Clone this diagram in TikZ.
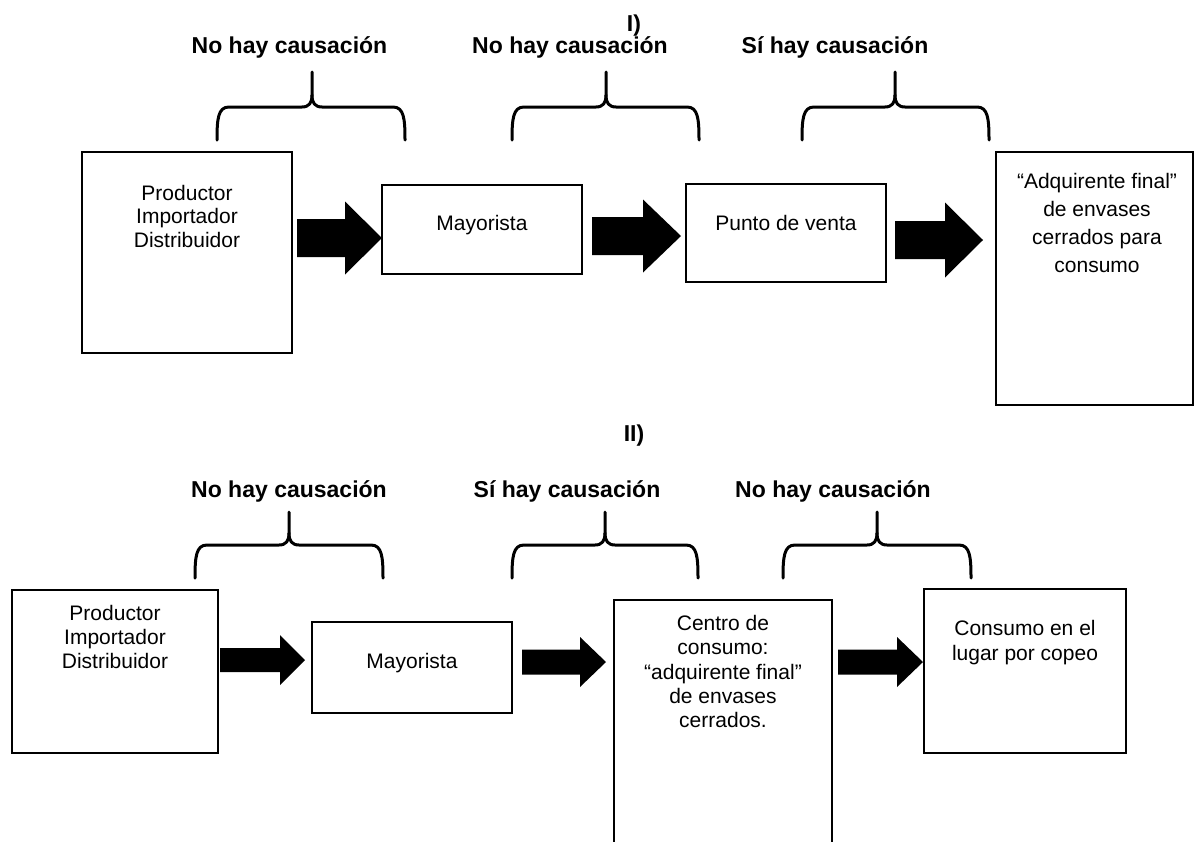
\documentclass[tikz,border=0pt]{standalone}
\usepackage{fontspec}
\setmainfont{Liberation Sans}
\usetikzlibrary{calc}
\tikzset{
  box/.style={draw=black, line width=1.3pt, rectangle, inner sep=0pt},
  btxt/.style={font=\fontsize{21}{23.5}\selectfont, align=center, inner sep=0pt},
  lbl/.style={font=\bfseries\fontsize{23}{27}\selectfont, inner sep=0pt, anchor=base},
  brc/.style={line width=3pt, line cap=round, line join=round},
}
\newcommand\blockarr[5]{\fill ($(#1)+(0,-#3)$) -- ($(#2)+(-#5,-#3)$) -- ($(#2)+(-#5,-#4)$) -- (#2) -- ($(#2)+(-#5,#4)$) -- ($(#2)+(-#5,#3)$) -- ($(#1)+(0,#3)$) -- cycle;}
\newcommand\cbrace[6]{%
  \draw[brc] (#1,#6) .. controls (#1,#5+12) and (#1+1,#5) .. (#1+12,#5) -- (#2-10,#5) .. controls (#2-3,#5) and (#2,#5-4) .. (#2,#5-12) -- (#2,#4);
  \draw[brc] (#2,#5-12) .. controls (#2,#5-4) and (#2+3,#5) .. (#2+10,#5) -- (#3-12,#5) .. controls (#3-1,#5) and (#3,#5+12) .. (#3,#6);}
\begin{document}
\begin{tikzpicture}[x=1pt, y=-1pt]
\useasboundingbox (0,0) rectangle (1194,841);
\clip (0,0) rectangle (1194,841);
\fill[white] (0,0) rectangle (1194,841);

% ---------- Part I ----------
\node[lbl] (i) at (634,31) {I)};
\node[lbl] (l1) at (289.5,53) {No hay causación};
\node[lbl] (l2) at (570,53) {No hay causación};
\node[lbl] (l3) at (835,53) {Sí hay causación};

\cbrace{217}{312}{405}{72}{107}{140}
\cbrace{512}{606}{699}{72}{107}{140}
\cbrace{802}{895}{989}{72}{107}{140}

\node[box, minimum width=210pt, minimum height=201pt] (t1) at (187,252.5) {};
\node[box, minimum width=200pt, minimum height=89pt] (t2) at (482,229.5) {};
\node[box, minimum width=200pt, minimum height=98pt] (t3) at (786,233) {};
\node[box, minimum width=197pt, minimum height=253pt] (t4) at (1094.5,278.5) {};

\node[btxt, anchor=north] (t1x) at (187,185) {Productor\\Importador\\Distribuidor};
\node[btxt, anchor=base] (t2x) at (482,230) {Mayorista};
\node[btxt, anchor=base] (t3x) at (786,230) {Punto de venta};
\node[btxt, anchor=north, font=\fontsize{21}{28}\selectfont] (t4x) at (1097,173) {“Adquirente final”\\de envases\\cerrados para\\consumo};

\coordinate (a1s) at (297,238); \coordinate (a1t) at (382,238);
\coordinate (a2s) at (592,236); \coordinate (a2t) at (681,236);
\coordinate (a3s) at (895,240); \coordinate (a3t) at (983,240);
\blockarr{a1s}{a1t}{19}{36.5}{37}
\blockarr{a2s}{a2t}{19}{36.5}{38}
\blockarr{a3s}{a3t}{19}{37.5}{38}

% ---------- Part II ----------
\node[lbl] (ii) at (634,441) {II)};
\node[lbl] (m1) at (289,497) {No hay causación};
\node[lbl] (m2) at (567,497) {Sí hay causación};
\node[lbl] (m3) at (833,497) {No hay causación};

\cbrace{195}{289}{383}{512}{545}{578}
\cbrace{512}{605}{698}{512}{545}{578}
\cbrace{783}{877}{971}{512}{545}{578}

\node[box, minimum width=206pt, minimum height=163pt] (u1) at (115,671.5) {};
\node[box, minimum width=200pt, minimum height=91pt] (u2) at (412,667.5) {};
\node[box, minimum width=218pt, minimum height=270pt] (u3) at (723,735) {};
\node[box, minimum width=202pt, minimum height=164pt] (u4) at (1025,671) {};

\node[btxt, anchor=north, font=\fontsize{21}{24}\selectfont] (u1x) at (115,605) {Productor\\Importador\\Distribuidor};
\node[btxt, anchor=base] (u2x) at (412,668) {Mayorista};
\node[btxt, anchor=north, font=\fontsize{21}{24.3}\selectfont] (u3x) at (723,615) {Centro de\\consumo:\\“adquirente final”\\de envases\\cerrados.};
\node[btxt, anchor=north, font=\fontsize{21}{25}\selectfont] (u4x) at (1025,620) {Consumo en el\\lugar por copeo};

\coordinate (b1s) at (220,660); \coordinate (b1t) at (305,660);
\coordinate (b2s) at (522,662); \coordinate (b2t) at (606,662);
\coordinate (b3s) at (838,662); \coordinate (b3t) at (923,662);
\blockarr{b1s}{b1t}{12}{25}{25}
\blockarr{b2s}{b2t}{12.5}{25}{26}
\blockarr{b3s}{b3t}{12.5}{25}{26}
\end{tikzpicture}
\end{document}
